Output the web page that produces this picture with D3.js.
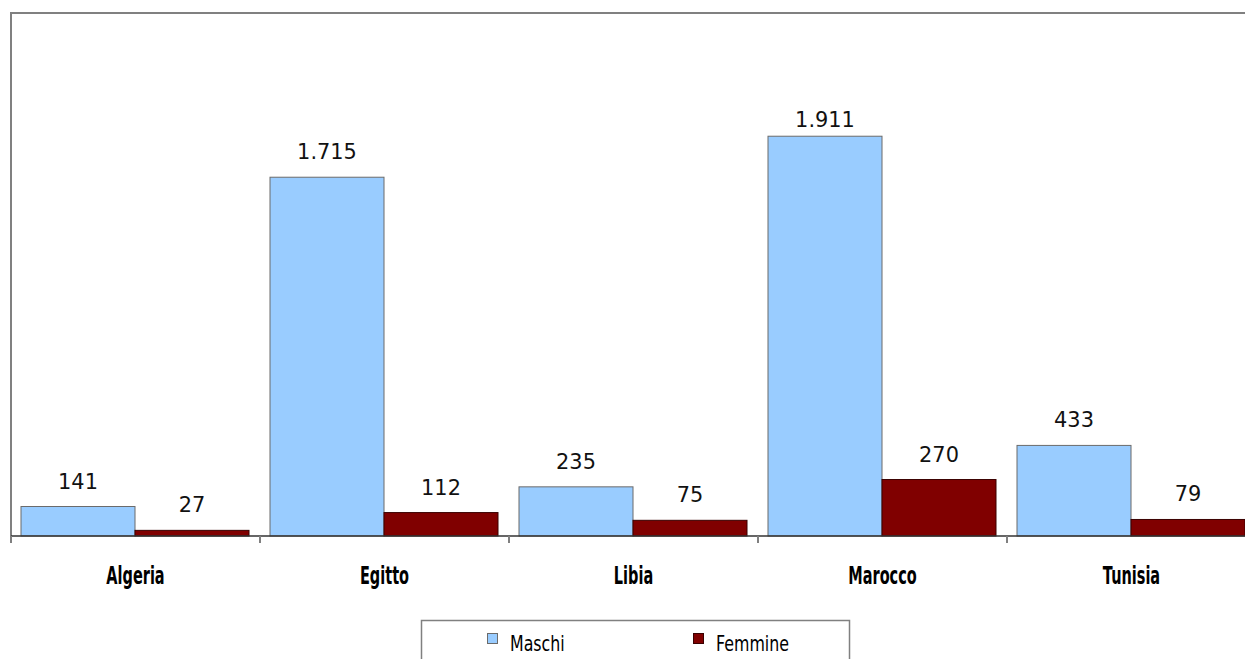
<!DOCTYPE html>
<html>
<head>
<meta charset="utf-8">
<script src="https://cdn.jsdelivr.net/npm/d3@7"></script>
<style>
  body { margin: 0; background: #fff; }
  svg { display: block; }
</style>
</head>
<body>
<div id="chart"></div>
<script>
// data
const categories = ['Algeria', 'Egitto', 'Libia', 'Marocco', 'Tunisia'];
const seriesNames = ['Maschi', 'Femmine'];
const maschi = [141, 1715, 235, 1911, 433];
const femmine = [27, 112, 75, 270, 79];
const yMax = 2500;

const width = 1245;
const height = 659;
const colors = ['#99CCFF', '#800000'];
const strokes = ['#6b6b6b', '#3a0000'];

const margin = { top: 13, left: 11, bottom: 123 };
const plotRight = margin.left + 5 * 249;
const baseY = height - margin.bottom;

const svg = d3.select('#chart').append('svg')
    .attr('width', width)
    .attr('height', height);

const x = d3.scaleBand()
    .domain(categories)
    .range([margin.left, plotRight])
    .paddingInner(0)
    .paddingOuter(0);

const xInner = d3.scaleBand()
    .domain(seriesNames)
    .range([10, x.bandwidth() - 11]);

const y = d3.scaleLinear()
    .domain([0, yMax])
    .range([baseY, margin.top]);

// narrow text helper: draw at normal width, squeeze horizontally
function squeeze(sel, sx) {
    sel.attr('transform', function() {
        const tx = +d3.select(this).attr('x');
        const ty = +d3.select(this).attr('y');
        return `translate(${tx},${ty}) scale(${sx},1)`;
    }).attr('x', 0).attr('y', 0);
}

// plot frame (top border + left axis line)
svg.append('path')
    .attr('d', `M${margin.left},${baseY + 7}V${margin.top}H${width + 5}`)
    .attr('fill', 'none')
    .attr('stroke', '#808080')
    .attr('stroke-width', 2);

const data = categories.map((c, i) => ({ cat: c, values: [maschi[i], femmine[i]] }));

const groups = svg.append('g').selectAll('g')
    .data(data)
    .join('g')
    .attr('transform', d => `translate(${x(d.cat)},0)`);

groups.selectAll('rect')
    .data(d => d.values.map((v, j) => ({ v, s: seriesNames[j], j })))
    .join('rect')
    .attr('x', d => xInner(d.s))
    .attr('y', d => y(d.v))
    .attr('width', xInner.bandwidth())
    .attr('height', d => baseY - y(d.v))
    .attr('fill', d => colors[d.j])
    .attr('stroke', d => strokes[d.j])
    .attr('stroke-width', 1);

// value labels
groups.selectAll('text.val')
    .data(d => d.values.map((v, j) => ({ v, s: seriesNames[j], j })))
    .join('text')
    .attr('class', 'val')
    .attr('x', d => xInner(d.s) + xInner.bandwidth() / 2)
    .attr('y', d => Math.max(y(d.v) - 18, 127))
    .attr('text-anchor', 'middle')
    .style('font-family', '"DejaVu Sans", sans-serif')
    .style('font-size', '22px')
    .style('fill', '#111')
    .text(d => d3.format(',')(d.v).replace(/,/g, '.'))
    .call(squeeze, 0.95);

// x axis
const xAxis = svg.append('g')
    .attr('transform', `translate(0,${baseY})`);

xAxis.append('line')
    .attr('x1', margin.left)
    .attr('x2', plotRight)
    .attr('stroke', '#333')
    .attr('stroke-width', 1.5);

xAxis.selectAll('line.tick')
    .data(d3.range(categories.length + 1))
    .join('line')
    .attr('class', 'tick')
    .attr('x1', i => margin.left + i * x.bandwidth())
    .attr('x2', i => margin.left + i * x.bandwidth())
    .attr('y1', 0)
    .attr('y2', 7)
    .attr('stroke', '#808080')
    .attr('stroke-width', 2);

xAxis.selectAll('text')
    .data(categories)
    .join('text')
    .attr('x', d => x(d) + x.bandwidth() / 2)
    .attr('y', 48)
    .attr('text-anchor', 'middle')
    .style('font-family', '"DejaVu Sans", sans-serif')
    .style('font-weight', 'bold')
    .style('font-size', '25px')
    .style('fill', '#000')
    .text(d => d)
    .call(squeeze, 0.58);

// legend
const legend = svg.append('g');
legend.append('rect')
    .attr('x', 421.5)
    .attr('y', 620.5)
    .attr('width', 428)
    .attr('height', 60)
    .attr('fill', '#fff')
    .attr('stroke', '#808080')
    .attr('stroke-width', 1.5);

const legendX = [487, 693];
seriesNames.forEach((s, j) => {
    legend.append('rect')
        .attr('x', legendX[j] + 0.5)
        .attr('y', 633.5)
        .attr('width', 10)
        .attr('height', 10)
        .attr('fill', colors[j])
        .attr('stroke', strokes[j]);
    legend.append('text')
        .attr('x', legendX[j] + 23)
        .attr('y', 651)
        .style('font-family', '"DejaVu Sans", sans-serif')
        .style('font-size', '22px')
        .style('fill', '#000')
        .text(s)
        .call(squeeze, 0.72);
});
</script>
</body>
</html>
